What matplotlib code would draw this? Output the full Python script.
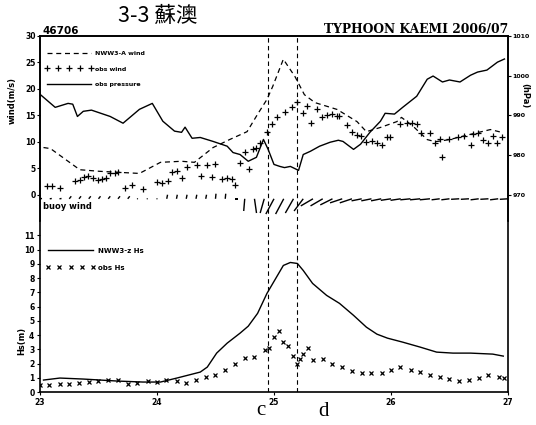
import numpy as np
import matplotlib.pyplot as plt

# ---- data (time in days of July 2006) ----
press_t = [23.00, 23.13, 23.24, 23.28, 23.32, 23.37, 23.44, 23.60, 23.71, 23.85, 23.96,
           24.05, 24.15, 24.21, 24.24, 24.30, 24.37, 24.48, 24.60, 24.65, 24.71, 24.78,
           24.85, 24.91, 24.95, 25.00, 25.05, 25.09, 25.14, 25.21, 25.25, 25.31, 25.39,
           25.48, 25.55, 25.59, 25.68, 25.74, 25.82, 25.91, 25.95, 26.03, 26.10, 26.22,
           26.31, 26.36, 26.44, 26.50, 26.59, 26.68, 26.74, 26.82, 26.91, 26.97]
press_p = [995.3, 992.0, 993.0, 992.8, 989.7, 991.0, 991.3, 989.7, 988.0, 991.5, 993.0,
           988.5, 986.0, 985.7, 987.0, 984.2, 984.4, 983.4, 982.2, 980.6, 980.1, 978.4,
           979.4, 983.9, 981.4, 977.6, 977.1, 976.8, 977.1, 976.1, 980.1, 980.9, 982.2,
           983.2, 983.7, 983.4, 981.4, 982.7, 985.7, 988.5, 990.5, 990.3, 992.0, 994.8,
           999.1, 999.9, 998.4, 998.9, 998.4, 1000.1, 1000.9, 1001.4, 1003.4, 1004.2]

model_wind_t = [23.03, 23.09, 23.34, 23.51, 23.85, 24.03, 24.21, 24.32, 24.48, 24.62, 24.77,
                24.86, 24.94, 24.99, 25.08, 25.18, 25.26, 25.35, 25.54, 25.71, 25.79, 25.91,
                26.05, 26.09, 26.19, 26.31, 26.38, 26.50, 26.68, 26.85, 26.96]
model_wind = [8.9, 8.7, 4.7, 4.4, 4.0, 6.1, 6.3, 6.1, 8.9, 10.4, 11.9,
              15.2, 18.0, 20.5, 25.6, 22.3, 18.9, 17.4, 16.1, 13.8, 11.9, 12.7,
              13.8, 14.6, 12.9, 10.4, 10.0, 10.4, 11.4, 12.3, 11.7]

obs_wind_t = [23.06, 23.10, 23.17, 23.30, 23.34, 23.38, 23.41, 23.45, 23.50, 23.53, 23.56,
              23.60, 23.64, 23.67, 23.73, 23.79, 23.88, 24.00, 24.04, 24.09, 24.13, 24.17,
              24.21, 24.26, 24.34, 24.38, 24.43, 24.47, 24.50, 24.56, 24.60, 24.64, 24.67,
              24.71, 24.75, 24.79, 24.82, 24.85, 24.88, 24.94, 24.98, 25.03, 25.09, 25.15,
              25.20, 25.25, 25.28, 25.32, 25.37, 25.41, 25.45, 25.50, 25.54, 25.56, 25.62,
              25.67, 25.71, 25.74, 25.79, 25.84, 25.88, 25.92, 25.97, 25.99, 26.08, 26.14,
              26.18, 26.22, 26.26, 26.33, 26.38, 26.42, 26.44, 26.50, 26.57, 26.62, 26.68,
              26.70, 26.74, 26.79, 26.83, 26.87, 26.91, 26.95]
obs_wind = [1.7, 1.7, 1.3, 2.5, 2.8, 3.4, 3.6, 3.2, 2.8, 3.0, 3.2,
            4.0, 4.0, 4.2, 1.3, 1.9, 1.1, 2.3, 2.1, 2.5, 4.2, 4.4,
            3.2, 5.3, 5.5, 3.6, 5.5, 3.4, 5.7, 3.0, 3.2, 3.0, 1.9,
            5.9, 8.1, 4.9, 8.7, 8.9, 9.8, 11.9, 13.3, 14.6, 15.7, 16.5,
            17.6, 15.5, 16.7, 13.6, 16.1, 14.6, 15.0, 15.2, 14.8, 14.8, 13.1,
            11.9, 11.2, 11.0, 10.0, 10.2, 9.8, 9.3, 10.8, 10.8, 13.3, 13.6,
            13.6, 13.3, 11.7, 11.7, 9.8, 10.6, 7.2, 10.6, 10.8, 11.0, 9.3,
            11.4, 11.7, 10.4, 9.7, 11.0, 9.8, 10.8]

# buoy wind sticks, every 2 hours
stick_t = [23 + k / 12 for k in range(49)]
stick_u = [2, 2, 2, 2, 2, 2, 2, 2, 2, 2,
           1, 1, 1, 0.8, 0.8, 0.8, 0.8, 0.8, 0.5, 0.5,
           3, -1, 2, -4, -8, -8, -8, -9, -12, -12,
           -12, -12, -12, -10, -10, -10, -10, -10, -10, -10,
           -10, -8, -8, -8, -8, -8, -8, -8, -8]
stick_v = [0.3, 0.3, 0.3, 2.5, 2.5, 2.5, 2.5, 2.5, 2.5, 2.5,
           0.5, 0.5, 0.5, 4, 4, 4, 4, 4, 5, 5,
           0, -12, -14, -14, -15, -15, -14, -12, -7, -7,
           -6, -4, -4, -2, -2, -2, -1.5, -1.5, -1, -1,
           -1, -1, -1, -0.5, -0.5, -1, -0.5, -1, -0.5]

model_hs_t = [23.03, 23.17, 23.37, 23.66, 23.88, 24.03, 24.17, 24.37, 24.43, 24.51, 24.60,
              24.71, 24.78, 24.86, 24.94, 25.03, 25.08, 25.14, 25.20, 25.25, 25.33, 25.45,
              25.56, 25.68, 25.79, 25.88, 25.97, 26.10, 26.25, 26.39, 26.53, 26.68, 26.87, 26.96]
model_hs = [0.84, 0.98, 0.91, 0.77, 0.70, 0.70, 0.98, 1.40, 1.75, 2.73, 3.43,
            4.13, 4.62, 5.52, 6.92, 8.18, 8.88, 9.09, 9.02, 8.53, 7.62, 6.78,
            6.22, 5.38, 4.55, 4.06, 3.78, 3.50, 3.15, 2.80, 2.73, 2.73, 2.66, 2.52]

obs_hs_t = [23.00, 23.08, 23.17, 23.25, 23.33, 23.42, 23.50, 23.58, 23.67, 23.75, 23.83,
            23.92, 24.00, 24.08, 24.17, 24.25, 24.33, 24.42, 24.50, 24.58, 24.67, 24.75,
            24.83, 24.92, 24.96, 25.00, 25.04, 25.08, 25.12, 25.16, 25.20, 25.22, 25.25,
            25.29, 25.33, 25.42, 25.50, 25.58, 25.67, 25.75, 25.83, 25.92, 26.00, 26.08,
            26.17, 26.25, 26.33, 26.42, 26.50, 26.58, 26.67, 26.75, 26.83, 26.92, 26.97]
obs_hs = [0.5, 0.5, 0.55, 0.55, 0.6, 0.7, 0.75, 0.85, 0.85, 0.55, 0.6,
          0.75, 0.7, 0.85, 0.75, 0.6, 0.85, 1.05, 1.2, 1.55, 1.95, 2.4,
          2.45, 2.95, 3.1, 3.85, 4.3, 3.5, 3.2, 2.5, 2.0, 2.3, 2.7,
          3.1, 2.25, 2.3, 1.95, 1.75, 1.45, 1.35, 1.35, 1.35, 1.55, 1.75,
          1.55, 1.4, 1.2, 1.05, 0.9, 0.75, 0.85, 1.0, 1.2, 1.05, 1.0]

events = [24.95, 25.2]
event_labels = ['c', 'd']
day_ticks = [23, 24, 25, 26, 27]

# ---- figure ----
fig = plt.figure(figsize=(5.36, 4.25), dpi=100)
ax1 = fig.add_axes([0.0746, 0.48, 0.8731, 0.4353])
ax2 = fig.add_axes([0.0746, 0.0776, 0.8731, 0.4024], sharex=ax1)
axp = ax1.twinx()

tick_font = dict(fontsize=5.5, fontweight='bold')

ax1.plot(model_wind_t, model_wind, color='black', lw=0.9, ls=(0, (4, 3)), label='NWW3-A wind')
ax1.plot(obs_wind_t, obs_wind, ls='none', marker='+', ms=5, mew=0.9, color='black', label='obs wind')
axp.plot(press_t, press_p, color='black', lw=1.0, label='obs pressure')
ax1.quiver(stick_t, np.full(len(stick_t), -0.8), stick_u, stick_v, angles='uv',
           scale_units='y', scale=5.2, headwidth=0, headlength=0, headaxislength=0,
           width=0.003, color='black')
ax1.text(23.03, -2.3, 'buoy wind', fontsize=6, fontweight='bold', va='center')

ax1.set_xlim(23, 27)
ax1.set_ylim(-5, 30)
axp.set_ylim(963.33, 1010)
ax1.set_yticks(range(0, 31, 5))
axp.set_yticks(range(970, 1011, 10))
ax1.set_yticklabels([str(v) for v in range(0, 31, 5)], **tick_font)
axp.set_yticklabels([str(v) for v in range(970, 1011, 10)], fontsize=4.5, fontweight='bold')
ax1.set_ylabel('wind(m/s)', fontsize=6, fontweight='bold')
ax1.yaxis.set_label_coords(-0.05, 0.65)
axp.set_ylabel('(hPa)', fontsize=6, fontweight='bold', rotation=270)
axp.yaxis.set_label_coords(1.045, 0.68)
ax1.tick_params(axis='x', which='both', bottom=False, labelbottom=False, top=False)
ax1.tick_params(axis='y', length=2, width=0.8, pad=1)
axp.tick_params(axis='y', length=2, width=0.8, pad=1)

ax2.plot(model_hs_t, model_hs, color='black', lw=1.0, label='NWW3-z Hs')
ax2.plot(obs_hs_t, obs_hs, ls='none', marker='x', ms=3.5, mew=0.9, color='black', label='obs Hs')
ax2.set_ylim(0, 12)
ax2.set_yticks(range(0, 12))
ax2.set_yticklabels([str(v) for v in range(0, 12)], **tick_font)
ax2.set_xticks(day_ticks)
ax2.set_xticklabels([str(d) for d in day_ticks], **tick_font)
ax2.set_ylabel('Hs(m)', fontsize=6, fontweight='bold')
ax2.yaxis.set_label_coords(-0.03, 0.3)
ax2.tick_params(length=2, width=0.8, pad=2)

for ax in (ax1, axp):
    ax.spines['bottom'].set_visible(False)
ax2.spines['top'].set_visible(False)
for ax in (ax1, axp, ax2):
    for s in ax.spines.values():
        s.set_linewidth(1.2)

for t in events:
    for ax in (ax1, ax2):
        ax.axvline(t, color='black', lw=0.8, ls=(0, (4, 3)))

for t, lab, dx, dy in zip(events, event_labels, [-5, 19], [-13, -14]):
    ax2.annotate(lab, xy=(t, 0), xycoords=('data', 'axes fraction'), xytext=(dx, dy),
                 textcoords='offset points', ha='center', va='center',
                 fontsize=15, family='Liberation Serif')

h1, l1 = ax1.get_legend_handles_labels()
h2, l2 = axp.get_legend_handles_labels()
ax1.legend(h1 + h2, l1 + l2, loc='upper left', bbox_to_anchor=(0.0, 0.95), frameon=False,
           prop=dict(size=4.5, weight='bold'), handlelength=7.5, numpoints=5,
           labelspacing=1.6, handletextpad=0.4)
ax2.legend(loc='upper left', bbox_to_anchor=(0.0, 0.88), frameon=False,
           prop=dict(size=5, weight='bold'), handlelength=7, numpoints=5,
           labelspacing=1.6, handletextpad=0.5)

fig.text(0.295, 0.962, '3-3 蘇澳', fontsize=15.5, ha='center', va='center',
         family=['Noto Sans CJK SC', 'DejaVu Sans'])
fig.text(0.08, 0.926, '46706', fontsize=7.5, fontweight='bold', va='center')
fig.text(0.949, 0.93, 'TYPHOON KAEMI 2006/07', fontsize=8.8, fontweight='bold',
         family='DejaVu Serif', ha='right', va='center')

fig.savefig('out.png', dpi=100)
